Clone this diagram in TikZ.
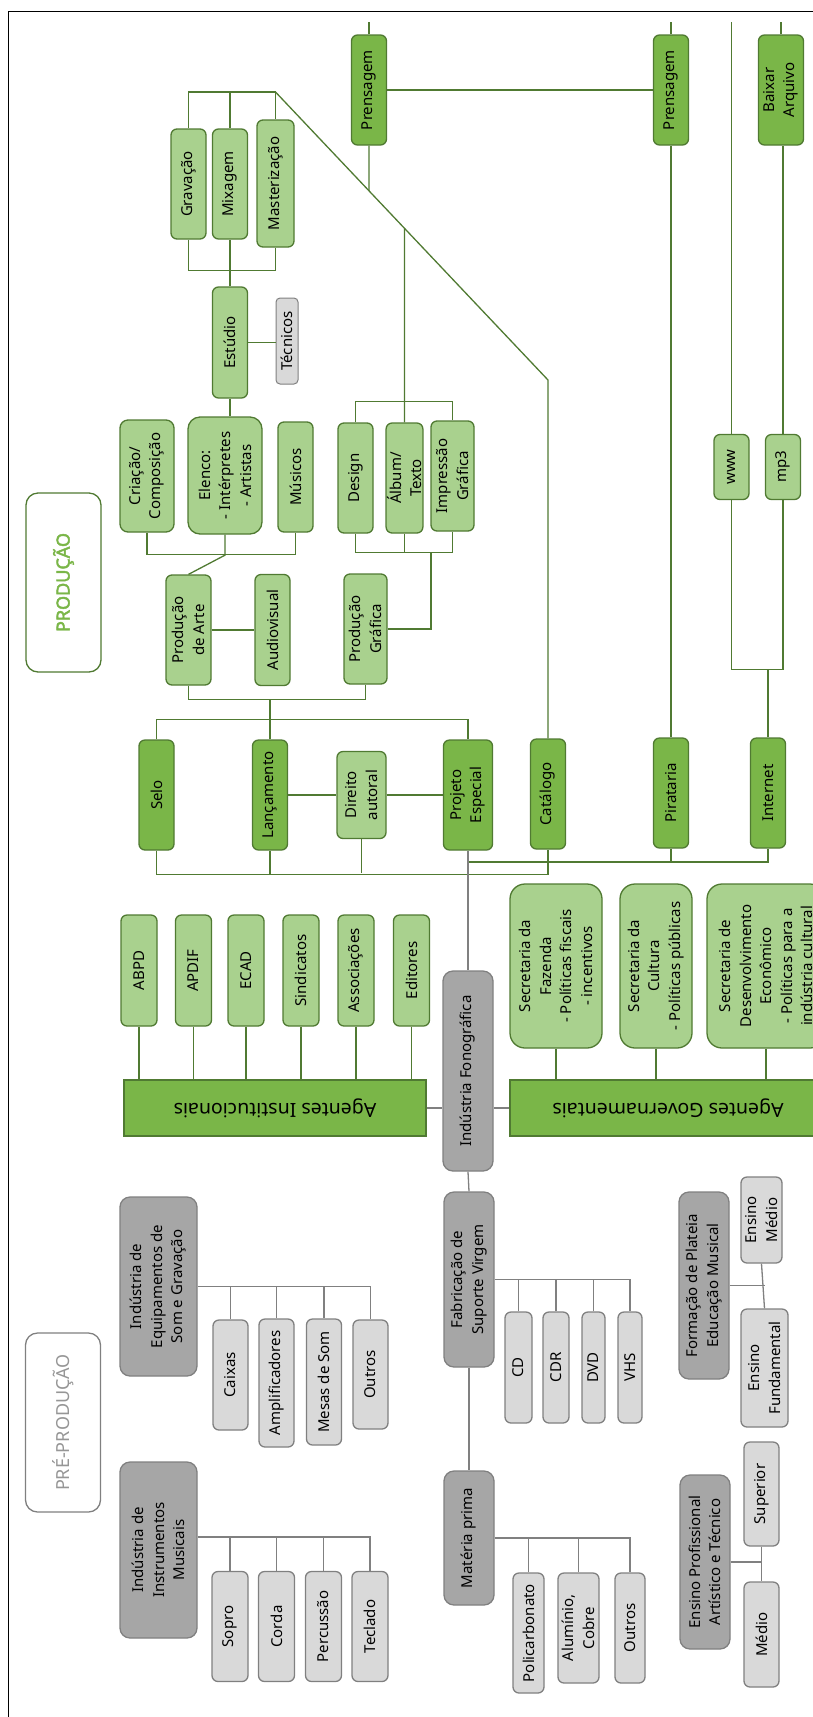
\documentclass[tikz,border=0pt]{standalone}
\usepackage{fontspec}
\setmainfont{Noto Sans}
\newfontfamily\headfont{Noto Sans}[FakeBold=2.5]
\usepackage{graphicx}
\definecolor{lgreen}{RGB}{169,209,142}
\definecolor{mgreen}{RGB}{122,182,72}
\definecolor{dgreen}{RGB}{80,122,50}
\definecolor{dgray}{RGB}{166,166,166}
\definecolor{lgray}{RGB}{217,217,217}
\definecolor{bgray}{RGB}{128,128,128}
\definecolor{tgray}{RGB}{150,150,150}

\begin{document}
\begin{tikzpicture}[x=1pt,y=-1pt,
  every node/.style={font=\fontsize{15}{20.5}\selectfont,align=center,inner sep=1pt},
  box/.style={draw,line width=1.3pt,rounded corners=6pt,rotate=90,minimum width=110,minimum height=35},
  lbox/.style={box,draw=dgreen,fill=lgreen},
  mbox/.style={box,draw=dgreen,fill=mgreen},
  dbox/.style={box,draw=bgray,fill=dgray,rounded corners=10pt},
  gbox/.style={box,draw=bgray,fill=lgray},
  bar/.style={draw=dgreen,line width=1.3pt,fill=mgreen,minimum height=56,font=\fontsize{19.5}{22}\selectfont},
  ttl/.style={draw,line width=1.3pt,rounded corners=12pt,fill=white,rotate=90,minimum width=179,minimum height=75,font=\fontsize{18}{22}\selectfont},
  gl/.style={draw=dgreen,line width=1.3pt},
  yl/.style={draw=bgray,line width=1.3pt}]
\clip (0,0) rectangle (813,1717);
\draw[line width=1pt] (8,1717) -- (8,11) -- (813,11);

\node[ttl,draw=dgreen,text=mgreen] (prod) at (63.5,582.5) {\headfont PRODUÇÃO};
\node[ttl,draw=bgray,text=tgray] (preprod) at (63,1422.5) {PRÉ-PRODUÇÃO};

% producao
\node[mbox] (pres1) at (369,90) {Prensagem};
\node[mbox] (pres2) at (671,90) {Prensagem};
\node[mbox,minimum height=45] (baixar) at (781,90) {Baixar\\Arquivo};
\node[lbox] (grav) at (188.5,184) {Gravação};
\node[lbox] (mix) at (230,184) {Mixagem};
\node[lbox,minimum width=127,minimum height=37] (master) at (275.5,183.5) {Masterização};
\node[lbox,minimum width=111] (estudio) at (230,342.5) {Estúdio};
\node[gbox,minimum width=86,minimum height=22,rounded corners=4pt,line width=1pt] (tecnicos) at (287,341) {Técnicos};
\node[lbox,minimum width=112,minimum height=54,rounded corners=8pt] (criacao) at (147,476) {Criação/\\Composição};
\node[lbox,minimum width=117,minimum height=74,rounded corners=12pt] (elenco) at (225,475.5) {Elenco:\\- Intérpretes\\- Artistas};
\node[lbox] (musicos) at (295.5,477) {Músicos};
\node[lbox] (design) at (355.5,478) {Design};
\node[lbox] (album) at (404.5,478) {Álbum/\\Texto};
\node[lbox,minimum height=43] (impr) at (452.5,476) {Impressão\\Gráfica};
\node[lbox,minimum height=45] (prodarte) at (188.5,630) {Produção\\de Arte};
\node[lbox,minimum width=111] (audio) at (272.5,630) {Audiovisual};
\node[lbox,minimum height=43] (prodgraf) at (365.5,629) {Produção\\Gráfica};
\node[lbox,minimum width=65] (www) at (731.5,467) {www};
\node[lbox,minimum width=65] (mp3) at (783,467) {mp3};
\node[mbox] (selo) at (156.5,795) {Selo};
\node[mbox] (lanc) at (270,795) {Lançamento};
\node[lbox,minimum width=87,minimum height=49] (direito) at (361.5,795) {Direito\\autoral};
\node[mbox,minimum height=49] (proj) at (468,795) {Projeto\\Especial};
\node[mbox] (catal) at (548,794) {Catálogo};
\node[mbox] (pirat) at (671,793) {Pirataria};
\node[mbox] (inet) at (768,793) {Internet};

% agentes
\foreach \n/\t/\x in {abpd/ABPD/139, apdif/APDIF/193.5, ecad/ECAD/246, sind/Sindicatos/301, assoc/Associações/356, edit/Editores/411.5}
  \node[lbox,minimum width=111,minimum height=36] (\n) at (\x,970.5) {\t};
\node[lbox,minimum width=164,minimum height=92,rounded corners=15pt] (secfaz) at (556,966) {Secretaria da\\Fazenda\\- Políticas fiscais\\- incentivos};
\node[lbox,minimum width=164,minimum height=72,rounded corners=15pt] (seccult) at (656,966) {Secretaria da\\Cultura\\- Políticas públicas};
\node[lbox,minimum width=164,minimum height=118,rounded corners=15pt] (secdes) at (766,966) {Secretaria de\\Desenvolvimento\\Econômico\\- Políticas para a\\indústria cultural};
\node[bar,minimum width=302] (agInst) at (275,1108) {\rotatebox{180}{Agentes Institucionais}};
\node[bar,minimum width=316] (agGov) at (668,1108) {\rotatebox{180}{Agentes Governamentais}};
\node[dbox,minimum width=200,minimum height=50] (indfon) at (468,1071) {Indústria Fonográfica};

% pre-producao
\node[dbox,minimum width=175,minimum height=50] (fabric) at (469,1279.5) {Fabricação de\\Suporte Virgem};
\node[dbox,minimum width=134,minimum height=50] (materia) at (469,1538) {Matéria prima};
\node[dbox,minimum width=179,minimum height=77] (indequip) at (158.5,1286.5) {Indústria de\\Equipamentos de\\Som e Gravação};
\node[dbox,minimum width=176,minimum height=77] (indinst) at (158.5,1550) {Indústria de\\Instrumentos\\Musicais};
\node[dbox,minimum width=187,minimum height=50] (formacao) at (704,1285.5) {Formação de Plateia\\Educação Musical};
\node[dbox,minimum width=174,minimum height=50] (ensprof) at (705,1562) {Ensino Profissional\\Artístico e Técnico};
\foreach \n/\t/\x/\y/\h in {caixas/Caixas/230.5/1375/110, ampli/Amplificadores/276.5/1383/128, mesas/Mesas de Som/324/1382/126, outrosA/Outros/370.5/1374.5/109}
  \node[gbox,minimum width=\h] (\n) at (\x,\y) {\t};
\foreach \n/\t/\x in {sopro/Sopro/230, corda/Corda/276.5, percus/Percussão/323.5, teclado/Teclado/370}
  \node[gbox,minimum height=36] (\n) at (\x,1626.5) {\t};
\foreach \n/\t/\x/\w in {cd/CD/518.5/27, cdr/CDR/556/26, dvd/DVD/593.5/23, vhs/VHS/630/24}
  \node[gbox,minimum width=111,minimum height=\w] (\n) at (\x,1367.5) {\t};
\node[gbox,minimum width=120,minimum height=31] (polic) at (528.5,1633) {Policarbonato};
\node[gbox,minimum height=41] (alum) at (578.5,1628) {Alumínio,\\Cobre};
\node[gbox,minimum height=30] (outrosB) at (630,1628) {Outros};
\node[gbox,minimum width=86,minimum height=41] (ensmed) at (761.5,1220) {Ensino\\Médio};
\node[gbox,minimum width=118,minimum height=47] (ensfund) at (764.5,1368) {Ensino\\Fundamental};
\node[gbox,minimum width=104] (superior) at (761.5,1494) {Superior};
\node[gbox,minimum width=105] (medio) at (761.5,1634.5) {Médio};

% ligacoes
\coordinate (topEdge) at (0,22);
\foreach \n in {pres1,pres2,baixar,www}
  \draw[gl] (\n.east) -- (\n.east |- topEdge);
\draw[gl] (pres1.south) -- (pres2.north);
\coordinate (mtop) at (master.east |- 0,92);
\coordinate (cbend) at (catal.east |- 0,380);
\draw[gl] (grav.east) |- (mtop) -- (master.east);
\draw[gl] (mix.east) -- (mix.east |- mtop);
\draw[gl] (mtop) -- (cbend) -- (catal.east);
\draw[gl] (pres1.west) -- (intersection of mtop--cbend and pres1.west--pres1.east);
\draw[gl] (album.east) -- (intersection of mtop--cbend and album.east--album.west);
\draw[gl] (design.east) -- ++(0,-21) -| (impr.east);
\draw[gl] (design.west) -- ++(0,19) -| (impr.west);
\draw[gl] (album.west) -- ++(0,19);
\coordinate (gjoin) at (431,552);
\draw[gl] (prodgraf.south) -| (gjoin);
\draw[gl] (grav.west) -- ++(0,31) -| (master.west);
\draw[gl] (estudio.east) -- (estudio.east |- mix.west);
\draw[gl] (estudio.west) -- (estudio.west |- elenco.east);
\draw[gl] (estudio.south) -- (estudio.south -| tecnicos.north);
\draw[gl] (criacao.west) -- ++(0,22) -| (musicos.west);
\draw[gl] (elenco.west) -- ++(0,20.5) -- (prodarte.east);
\draw[gl] (prodarte.south) -- (audio.north);
\draw[gl] (prodarte.west) -- ++(0,14) -| (prodgraf.west);
\draw[gl] (lanc.east) -- (lanc.east |- 0,699);
\draw[gl] (selo.east) -- ++(0,-20) -| (proj.east);
\draw[gl] (lanc.south) -- (direito.north);
\draw[gl] (direito.south) -- (proj.north);
\draw[gl] (selo.west) -- ++(0,24) -| (catal.west);
\draw[gl] (lanc.west) -- ++(0,23);
\draw[gl] (direito.west) -- (direito.west |- 0,872.5);
\coordinate (netjoin) at (proj.west |- 0,862);
\draw[gl] (netjoin) -| (inet.west);
\draw[gl] (pirat.west) -- (pirat.west |- netjoin);
\draw[gl] (pres2.west) -- (pirat.east);
\draw[gl] (mp3.east) -- (mp3.east |- baixar.west);
\draw[gl] (www.west) -- ++(0,169) -| (mp3.west);
\draw[gl] (inet.east) -- (inet.east |- 0,669);
\draw[yl] (proj.west) -- (indfon.east);
\foreach \n in {abpd,apdif,ecad,sind,assoc,edit}
  \draw[gl] (\n.west) -- (\n.west |- agInst.north);
\foreach \n in {secfaz,seccult,secdes}
  \draw[gl] (\n.west) -- (\n.west |- agGov.north);
\draw[yl] (agInst.east) -- (agInst.east -| indfon.north);
\draw[yl] (agGov.west) -- (agGov.west -| indfon.south);
\draw[yl] (indfon.west) -- (fabric.east);
\draw[yl] (fabric.west) -- (materia.east);
\draw[yl] (fabric.south) -| (vhs.east);
\foreach \n in {cd,cdr,dvd}
  \draw[yl] (\n.east) -- (\n.east |- fabric.south);
\draw[yl] (materia.south) -| (outrosB.east);
\foreach \n in {polic,alum}
  \draw[yl] (\n.east) -- (\n.east |- materia.south);
\draw[yl] (indequip.south) -| (outrosA.east);
\foreach \n in {caixas,ampli,mesas}
  \draw[yl] (\n.east) -- (\n.east |- indequip.south);
\coordinate (instjoin) at (indinst.south |- 0,1537);
\draw[yl] (instjoin) -| (teclado.east);
\foreach \n in {sopro,corda,percus}
  \draw[yl] (\n.east) -- (\n.east |- instjoin);
\draw[yl] (ensmed.west) -- (ensfund.east);
\draw[yl] (formacao.south) -- (formacao.south -| ensfund.east);
\draw[yl] (superior.west) -- (medio.east);
\draw[yl] (ensprof.south) -- (ensprof.south -| medio.east);
\end{tikzpicture}
\end{document}
